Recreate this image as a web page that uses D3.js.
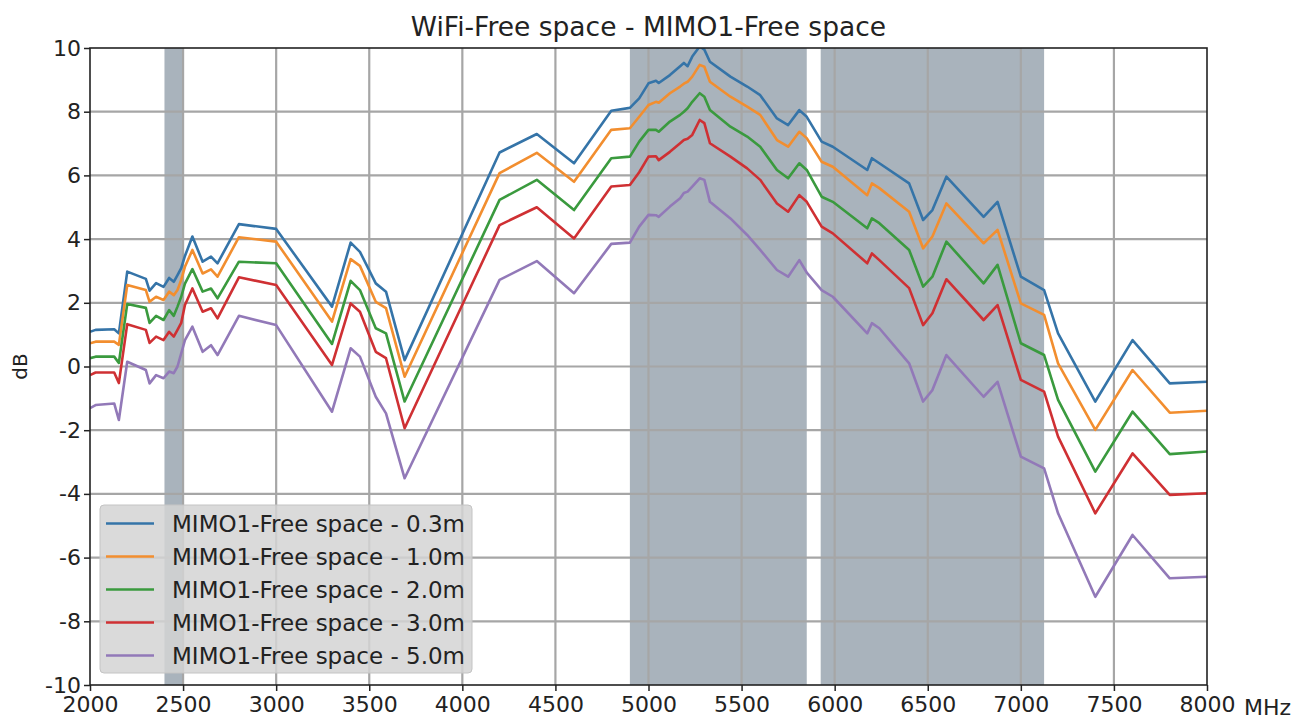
<!DOCTYPE html>
<html>
<head>
<meta charset="utf-8">
<script src="https://cdn.jsdelivr.net/npm/d3@7"></script>
<style>
  body { margin: 0; background: #fff; }
  svg { display: block; font-family: "DejaVu Sans", sans-serif; }
</style>
</head>
<body>
<div id="chart"></div>
<script>
// frequencies in MHz
const freqs = [
  2000, 2030, 2130, 2155, 2200, 2300, 2320, 2355, 2395, 2425, 2450, 2470, 2490, 2510, 2550, 2605, 2650, 2685,
  2800, 3000, 3300, 3400, 3450, 3535, 3590, 3690, 4200, 4400, 4600, 4800,
  4900, 4950, 5000, 5040, 5055, 5115, 5170, 5190, 5210, 5235, 5275, 5300, 5330, 5440, 5530, 5600, 5690, 5750, 5810, 5850,
  5930, 5990, 6175, 6200, 6240, 6400, 6475, 6525, 6600, 6800, 6875, 7000, 7125, 7200, 7400, 7600, 7800, 8000
]

const d03 = [
  1.09, 1.15, 1.17, 1.04, 2.98, 2.75, 2.38, 2.62, 2.50, 2.78, 2.66, 2.87, 3.09, 3.47, 4.08, 3.29, 3.45, 3.24,
  4.47, 4.32, 1.88, 3.89, 3.60, 2.61, 2.35, 0.20, 6.72, 7.30, 6.38, 8.03,
  8.12, 8.42, 8.89, 8.97, 8.90, 9.15, 9.43, 9.53, 9.43, 9.73, 10.05, 9.95, 9.57, 9.10, 8.79, 8.52, 7.79, 7.58, 8.05, 7.84,
  7.06, 6.90, 6.17, 6.54, 6.38, 5.75, 4.60, 4.91, 5.96, 4.70, 5.17, 2.82, 2.40, 1.04, -1.10, 0.83, -0.53, -0.48
]
const d10 = [
  0.73, 0.78, 0.78, 0.68, 2.56, 2.40, 2.03, 2.19, 2.09, 2.35, 2.24, 2.40, 2.72, 3.13, 3.66, 2.92, 3.05, 2.82,
  4.06, 3.92, 1.41, 3.37, 3.16, 2.03, 1.83, -0.32, 6.07, 6.71, 5.80, 7.43,
  7.48, 7.84, 8.21, 8.31, 8.28, 8.58, 8.79, 8.88, 8.94, 9.10, 9.47, 9.41, 8.94, 8.47, 8.16, 7.90, 7.11, 6.90, 7.37, 7.17,
  6.43, 6.27, 5.38, 5.75, 5.60, 4.86, 3.71, 4.08, 5.12, 3.87, 4.29, 1.98, 1.62, 0.10, -1.99, -0.11, -1.45, -1.39
]
const d20 = [
  0.26, 0.31, 0.31, 0.11, 1.96, 1.84, 1.37, 1.59, 1.46, 1.77, 1.59, 1.88, 2.19, 2.60, 3.06, 2.35, 2.45, 2.14,
  3.29, 3.24, 0.71, 2.69, 2.40, 1.20, 1.04, -1.10, 5.23, 5.86, 4.91, 6.54,
  6.59, 7.06, 7.43, 7.43, 7.37, 7.69, 7.90, 8.00, 8.11, 8.31, 8.58, 8.47, 8.05, 7.53, 7.22, 6.90, 6.17, 5.91, 6.38, 6.17,
  5.33, 5.17, 4.34, 4.65, 4.50, 3.66, 2.51, 2.82, 3.92, 2.61, 3.19, 0.73, 0.36, -1.05, -3.30, -1.42, -2.75, -2.67
]
const d30 = [
  -0.27, -0.19, -0.19, -0.52, 1.33, 1.15, 0.74, 0.94, 0.83, 1.09, 0.94, 1.15, 1.37, 1.93, 2.45, 1.72, 1.83, 1.51,
  2.80, 2.56, 0.05, 1.98, 1.72, 0.46, 0.26, -1.94, 4.44, 5.00, 4.02, 5.65,
  5.70, 6.10, 6.59, 6.60, 6.48, 6.74, 7.01, 7.11, 7.15, 7.27, 7.74, 7.64, 7.01, 6.59, 6.22, 5.86, 5.12, 4.86, 5.38, 5.17,
  4.39, 4.18, 3.24, 3.55, 3.34, 2.46, 1.30, 1.67, 2.74, 1.46, 1.93, -0.42, -0.79, -2.20, -4.61, -2.73, -4.03, -3.98
]
const d50 = [
  -1.31, -1.21, -1.16, -1.68, 0.15, -0.11, -0.53, -0.27, -0.37, -0.16, -0.21, 0.00, 0.41, 0.83, 1.25, 0.46, 0.67, 0.36,
  1.59, 1.30, -1.42, 0.57, 0.31, -0.95, -1.47, -3.51, 2.72, 3.31, 2.30, 3.85,
  3.89, 4.39, 4.76, 4.75, 4.70, 5.02, 5.28, 5.45, 5.49, 5.65, 5.91, 5.86, 5.17, 4.65, 4.13, 3.66, 3.03, 2.82, 3.34, 2.95,
  2.40, 2.19, 1.04, 1.36, 1.20, 0.10, -1.10, -0.74, 0.36, -0.95, -0.48, -2.83, -3.20, -4.61, -7.23, -5.29, -6.65, -6.60
]

const seriesNames = ["MIMO1-Free space - 0.3m", "MIMO1-Free space - 1.0m", "MIMO1-Free space - 2.0m",
  "MIMO1-Free space - 3.0m", "MIMO1-Free space - 5.0m"]
const seriesValues = [d03, d10, d20, d30, d50]
const colors = ["#3574a8", "#f28e2f", "#3a9a3e", "#cf3033", "#9279b8"]

// shaded WiFi bands (MHz)
const bands = [[2400, 2500], [4900, 5850], [5925, 7125]]

const xTicks = d3.range(2000, 8001, 500)
const yTicks = d3.range(-10, 11, 2)

const W = 1305, H = 724
const MARGIN = {left: 90, right: 98, top: 48, bottom: 39}

const svg = d3.select("#chart").append("svg").attr("width", W).attr("height", H)

const x = d3.scaleLinear().domain([2000, 8000]).range([MARGIN.left, W - MARGIN.right])
const y = d3.scaleLinear().domain([-10, 10]).range([H - MARGIN.bottom, MARGIN.top])

svg.append("defs").append("clipPath").attr("id", "plot-clip")
  .append("rect")
  .attr("x", x(2000)).attr("y", y(10))
  .attr("width", x(8000) - x(2000)).attr("height", y(-10) - y(10))

// bands
svg.append("g").selectAll("rect").data(bands).join("rect")
  .attr("x", d => x(d[0]))
  .attr("y", y(10))
  .attr("width", d => x(d[1]) - x(d[0]))
  .attr("height", y(-10) - y(10))
  .attr("fill", "slategray")
  .attr("fill-opacity", 0.6)

// grid
const grid = svg.append("g").attr("stroke", "#a6a6a6").attr("stroke-width", 2.2)
grid.selectAll(".gx").data(xTicks.slice(1, -1)).join("line")
  .attr("x1", d => x(d)).attr("x2", d => x(d))
  .attr("y1", y(10)).attr("y2", y(-10))
grid.selectAll(".gy").data(yTicks.slice(1, -1)).join("line")
  .attr("y1", d => y(d)).attr("y2", d => y(d))
  .attr("x1", x(2000)).attr("x2", x(8000))

// series lines
const line = d3.line().x((d, i) => x(freqs[i])).y(d => y(d))
svg.append("g").attr("clip-path", "url(#plot-clip)")
  .selectAll("path").data(seriesValues).join("path")
  .attr("d", d => line(d))
  .attr("fill", "none")
  .attr("stroke", (d, i) => colors[i])
  .attr("stroke-width", 2.6)
  .attr("stroke-linejoin", "round")

// axes
const xAxis = d3.axisBottom(x).tickValues(xTicks).tickSize(6).tickPadding(5).tickFormat(d3.format("d"))
const yAxis = d3.axisLeft(y).tickValues(yTicks).tickSize(6).tickPadding(3).tickFormat(d3.format("d"))

const gx = svg.append("g").attr("transform", `translate(0,${y(-10)})`).call(xAxis)
const gy = svg.append("g").attr("transform", `translate(${x(2000)},0)`).call(yAxis)
for (const g of [gx, gy]) {
  g.select(".domain").remove()
  g.selectAll(".tick line").attr("stroke", "#222").attr("stroke-width", 1.5)
  g.selectAll(".tick text").attr("fill", "#222").style("font-size", "22px").style("font-family", "DejaVu Sans")
}
gy.selectAll(".tick text").text(d => d < 0 ? "-" + Math.abs(d) : d)

// frame
svg.append("rect")
  .attr("x", x(2000)).attr("y", y(10))
  .attr("width", x(8000) - x(2000)).attr("height", y(-10) - y(10))
  .attr("fill", "none").attr("stroke", "#222").attr("stroke-width", 1.6)

// labels
svg.append("text").text("WiFi-Free space - MIMO1-Free space")
  .attr("x", (x(2000) + x(8000)) / 2).attr("y", 36)
  .attr("text-anchor", "middle").attr("fill", "#222")
  .style("font-size", "26.5px")

svg.append("text").text("dB")
  .attr("transform", `translate(27,${y(0)}) rotate(-90)`)
  .attr("text-anchor", "middle").attr("fill", "#222")
  .style("font-size", "20px")

svg.append("text").text("MHz")
  .attr("x", 1244).attr("y", y(-10) + 30)
  .attr("fill", "#222")
  .style("font-size", "22px")

// legend
const legend = svg.append("g").attr("transform", "translate(100,505)")
legend.append("rect")
  .attr("width", 372).attr("height", 168).attr("rx", 4)
  .attr("fill", "#d4d4d4").attr("fill-opacity", 0.85)
  .attr("stroke", "#c4c4c4").attr("stroke-width", 1)
const rows = legend.selectAll(".row").data(seriesNames).join("g")
  .attr("transform", (d, i) => `translate(0,${18.5 + i * 33})`)
rows.append("line")
  .attr("x1", 6).attr("x2", 54)
  .attr("stroke", (d, i) => colors[i]).attr("stroke-width", 2.6)
rows.append("text").text(d => d)
  .attr("x", 72).attr("dy", "0.36em")
  .attr("fill", "#222")
  .style("font-size", "23px")
</script>
</body>
</html>
